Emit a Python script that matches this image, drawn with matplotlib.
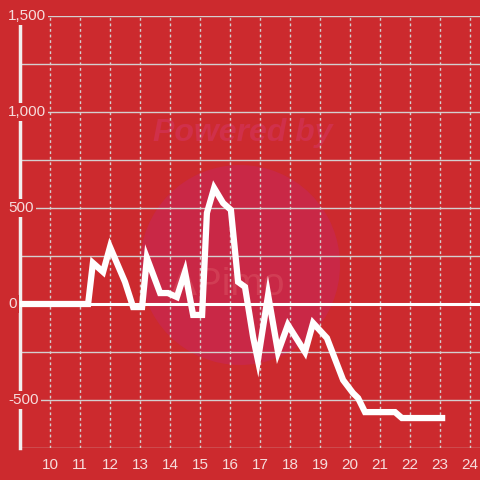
import matplotlib
matplotlib.use("Agg")
import matplotlib.pyplot as plt
from matplotlib.patches import Circle

# values (hour of day, value)
hours = [9.0, 11.27, 11.43, 11.77, 12.0, 12.5, 12.77, 13.07, 13.23, 13.67,
         13.93, 14.23, 14.5, 14.77, 15.07, 15.23, 15.47, 15.77, 16.03, 16.27,
         16.5, 16.77, 16.93, 17.27, 17.6, 17.93, 18.5, 18.77, 19.23, 19.77,
         20.1, 20.27, 20.5, 21.5, 21.73, 23.07]
values = [0, 0, 214, 167, 297, 115, -16, -16, 240, 57,
          57, 36, 167, -57, -57, 474, 604, 526, 490, 115,
          89, -172, -292, 47, -250, -109, -250, -99, -177, -396,
          -464, -490, -563, -563, -594, -594]

x_ticks = list(range(10, 25))
y_ticks = [-500, 0, 500, 1000, 1500]
y_labels = ["-500", "0", "500", "1,000", "1,500"]

bg = "#cc2a2e"
label_col = "#f6dcdc"
grid_col = "#d4cfcf"

plt.rcParams['font.family'] = ['Liberation Sans', 'DejaVu Sans']

fig = plt.figure(figsize=(4.8, 4.8), dpi=100, facecolor=bg)
ax = fig.add_axes([20/480, 32/480, 460/480, 432/480], facecolor=bg)
ax.set_xlim(9, 9 + 460/30)
ax.set_ylim(-750, 1500)

# watermark (behind everything in the axes)
wm = Circle((240/480, 1 - 265/480), 100/480, transform=fig.transFigure,
            facecolor="#c92846", edgecolor="none", zorder=0.2, clip_on=False)
ax.add_patch(wm)
ax.text(243/480, 1 - 133/480, "Powered by", transform=fig.transFigure,
        color="#d0304a", fontsize=23, fontweight="bold", style="italic",
        ha="center", va="center", zorder=0.3)
ax.text(228/480, 1 - 285/480, "APimo", transform=fig.transFigure,
        color="#dc5866", fontsize=28, ha="center", va="center", zorder=0.3,
        alpha=0.45)

# grid
for y in range(-750, 1501, 250):
    if y == 0:
        ax.axhline(0, color="white", lw=2.2, zorder=2)
    else:
        ax.axhline(y, color=grid_col, lw=1, zorder=1)
for x in x_ticks:
    ax.axvline(x, color=grid_col, lw=1, ls=(0, (2, 2)), zorder=1)

ax.plot(hours, values, color="white", lw=4.5, solid_joinstyle="miter", zorder=3)

for s in ["top", "right", "bottom"]:
    ax.spines[s].set_visible(False)
ax.spines["left"].set_color("#f2eeee")
ax.spines["left"].set_linewidth(2.5)
ax.spines["left"].set_zorder(2)

ax.set_yticks([])
ax.set_xticks(x_ticks)
ax.set_xticklabels([str(t) for t in x_ticks])
ax.tick_params(axis="x", length=0, pad=7, labelsize=11, labelcolor=label_col)

for v, lab in zip(y_ticks, y_labels):
    ax.text(-12/460, v, lab, transform=ax.get_yaxis_transform(), ha="left",
            va="center", fontsize=11, color=label_col, zorder=4,
            bbox=dict(facecolor=bg, edgecolor="none", pad=1.5))

fig.savefig("out.png", dpi=100, facecolor=bg)
